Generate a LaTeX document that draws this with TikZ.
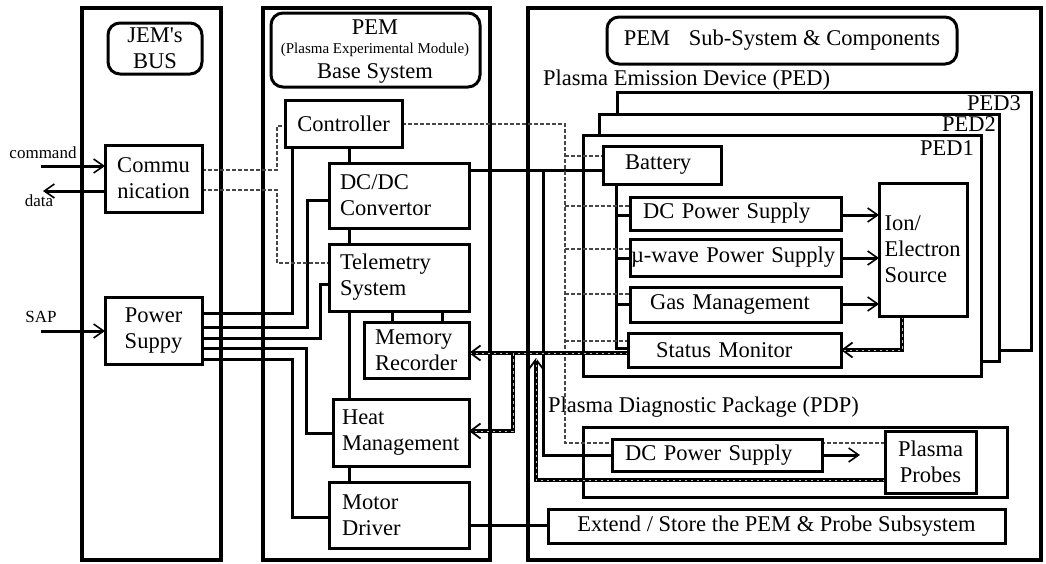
\documentclass[tikz,border=0pt]{standalone}
\usepackage{fontspec}
\setmainfont{Liberation Serif}
\newfontfamily\qfont{Liberation Serif}[Ligatures=TeXOff]
\usetikzlibrary{arrows.meta}
\pgfdeclarelayer{back}
\pgfdeclarelayer{wires}
\pgfsetlayers{back,wires,main}
\newcommand\bigf{\fontsize{22.5}{26}\selectfont}
% block from its top-left and bottom-right corners
\newcommand\blk[7]{\node[box,anchor=north west,minimum width={#4pt-#2pt},minimum height={#5pt-#3pt},#6] (#1) at (#2,#3) {#7};}
% empty frame from its corners
\newcommand\frm[6]{\node[framebox,anchor=north west,minimum width={#4pt-#2pt},minimum height={#5pt-#3pt},#6] (#1) at (#2,#3) {};}
\begin{document}
\begin{tikzpicture}[x=1pt,y=-1pt,
  box/.style={draw,line width=3pt,fill=white,inner sep=0pt,outer sep=0pt,font=\bigf,align=center},
  framebox/.style={draw,line width=3.4pt,inner sep=0pt,outer sep=0pt},
  wire/.style={line width=3pt},
  arr/.style={-{Straight Barb[length=10pt,width=14pt,line width=1.6pt]}},
  ctl/.style={line width=2.4pt,draw=black!72,dash pattern=on 4pt off 2pt},
  dat/.style={line width=3.8pt,-{Straight Barb[length=10pt,width=15pt,line width=1.8pt]},
    postaction={draw=black!25,line width=1pt,dash pattern=on 2.5pt off 3.5pt,-}},
  lbl/.style={inner sep=0pt,font=\bigf},
  sml/.style={inner sep=0pt,font=\fontsize{17}{19}\selectfont}]
\useasboundingbox (0,0) rectangle (1046,563);

% ---------- blocks ----------
\blk{jem}{108}{23}{202}{74}{rounded corners=12pt}{JEM{\qfont'}s\\BUS}
\blk{comm}{105}{145}{202}{212}{}{Commu\\nication}
\blk{pwr}{105}{297}{202}{364}{}{Power\\Suppy}

\blk{pem}{271}{13}{480}{87}{rounded corners=12pt}{}
\node[lbl] (pemA) at (375,27) {PEM};
\node[inner sep=0pt,font=\fontsize{15}{17}\selectfont] (pemB) at (375,50) {(Plasma Experimental Module)};
\node[lbl] (pemC) at (375,73) {Base System};
\blk{ctrl}{285}{100}{402}{147}{}{Controller}
\blk{dcdc}{329}{163}{469}{228}{align=left,text width=118pt}{DC/DC\\Convertor}
\blk{tele}{329}{244}{469}{311}{align=left,text width=118pt}{Telemetry\\System}
\blk{mem}{364}{322}{469}{378}{align=left,text width=83pt}{Memory\\Recorder}
\blk{heat}{333}{399}{469}{466}{align=left,text width=118pt}{Heat\\Management}
\blk{motor}{329}{482}{469}{548}{align=left,text width=114pt}{Motor\\Driver}

\blk{subsys}{607}{17}{957}{64}{rounded corners=12pt}{PEM\hspace{13pt} Sub-System \& Components}
\blk{batt}{603}{146}{721}{184}{align=left,text width=74pt}{Battery}
\blk{dcps}{630}{197}{841}{230}{align=left,text width=185pt}{DC Power Supply}
\blk{mw}{630}{239}{841}{276}{align=left,text width=209pt}{µ-wave Power Supply}
\blk{gas}{630}{287}{841}{322}{align=left,text width=171pt}{Gas Management}
\blk{sm}{628}{333}{841}{367}{align=left,text width=157pt}{Status Monitor}
\blk{ion}{879}{183}{967}{316}{align=left,text width=77pt}{Ion/\\Electron\\Source}
\blk{pdpdc}{612}{439}{822}{471}{align=left,text width=184pt}{DC Power Supply}
\blk{probes}{885}{431}{976}{493}{}{Plasma\\Probes}
\blk{ext}{548}{509}{1005}{543}{}{Extend / Store the PEM \& Probe Subsystem}

% ---------- columns and device frames ----------
\begin{pgfonlayer}{back}
\frm{colL}{82}{8}{221}{560}{}
\frm{colM}{263}{8}{490}{560}{}
\frm{colR}{528}{8}{1041}{560}{}
\node[lbl,anchor=west] (pedtitle) at (543,80) {Plasma Emission Device (PED)};
\frm{ped3}{617}{92}{1031}{350}{fill=white,line width=3pt}
\node[lbl,anchor=east] (ped3l) at (1021,103) {PED3};
\frm{ped2}{599}{114}{999}{361}{fill=white,line width=3pt}
\node[lbl,anchor=east] (ped2l) at (996,124) {PED2};
\frm{ped1}{583}{135}{981}{376}{fill=white,line width=3pt}
\node[lbl,anchor=east] (ped1l) at (974,148) {PED1};
\frm{pdp}{583}{427}{1007}{497}{line width=3pt}
\node[lbl,anchor=west] (pdptitle) at (548,407) {Plasma Diagnostic Package (PDP)};
\end{pgfonlayer}

% ---------- connectors ----------
\begin{pgfonlayer}{wires}
% external signals
\coordinate (cmdin) at (41,166);
\coordinate (dataout) at (43,191);
\coordinate (sapin) at (41,331);
\node[sml] (cmdl) at (43,153) {command};
\node[sml] (datal) at (39,201) {data};
\node[sml] (sapl) at (41,317) {SAP};
\draw[wire,arr] (cmdin) -- (comm.west |- cmdin);
\draw[wire,arr] (comm.west |- dataout) -- (dataout);
\draw[wire,arr] (sapin) -- (pwr.west |- sapin);

% power distribution from the bus supply
\draw[wire] (pwr.east |- 0,313) -| (292,0 |- ctrl.south);
\draw[wire] (pwr.east |- 0,327) -| (307,200) -- (dcdc.west |- 0,200);
\draw[wire] (pwr.east |- 0,338) -| (320,284) -- (tele.west |- 0,284);
\draw[wire] (pwr.east |- 0,348) -| (306,433) -- (heat.west |- 0,433);
\draw[wire] (pwr.east |- 0,359) -| (292,517) -- (motor.west |- 0,517);

% base system chain
\draw[wire] (349,0 |- ctrl.south) -- (349,0 |- dcdc.north);
\draw[wire] (349,0 |- dcdc.south) -- (349,0 |- tele.north);
\draw[wire] (349,0 |- tele.south) -- (349,0 |- heat.north);
\draw[wire] (349,0 |- heat.south) -- (349,0 |- motor.north);
\draw[wire] (392,0 |- tele.south) -- (392,0 |- mem.north);
\draw[wire] (442,0 |- tele.south) -- (442,0 |- mem.north);

% secondary power
\draw[wire] (dcdc.east |- 0,170) -- (batt.west |- 0,170);
\draw[wire] (543,170) |- (pdpdc.west);
\draw[wire] (616,0 |- batt.south) |- (sm.west |- 0,348);
\draw[wire] (616,215) -- (dcps.west |- 0,215);
\draw[wire] (616,258) -- (mw.west |- 0,258);
\draw[wire] (616,304) -- (gas.west |- 0,304);
\draw[wire] (motor.east |- 0,525) -- (ext.west |- 0,525);

% feeds into the source and the probes
\draw[wire,arr] (dcps.east |- 0,215) -- (ion.west |- 0,215);
\draw[wire,arr] (mw.east |- 0,258) -- (ion.west |- 0,258);
\draw[wire,arr] (gas.east |- 0,304) -- (ion.west |- 0,304);
\coordinate (probefeed) at (860,455);
\draw[wire,arr] (pdpdc.east) -- (probefeed);

% control lines
\draw[ctl] (comm.east |- 0,170) -| (277,126) -- (ctrl.west |- 0,126);
\draw[ctl] (comm.east |- 0,190) -| (277,263) -- (tele.west |- 0,263);
\draw[ctl] (ctrl.east |- 0,124) -| (565,443) -- (probes.west |- 0,443);
\draw[ctl] (565,156) -- (batt.west |- 0,156);
\draw[ctl] (565,206) -- (dcps.west |- 0,206);
\draw[ctl] (565,249) -- (mw.west |- 0,249);
\draw[ctl] (565,294) -- (gas.west |- 0,294);
\draw[ctl] (565,341) -- (sm.west |- 0,341);

% status / data lines
\draw[dat] (902,0 |- ion.south) |- (sm.east);
\draw[dat] (sm.west |- 0,353) -- (mem.east |- 0,353);
\draw[dat] (513,353) |- (heat.east |- 0,431);
\draw[dat] (probes.west |- 0,480) -| (536,358);
\end{pgfonlayer}
\end{tikzpicture}
\end{document}
